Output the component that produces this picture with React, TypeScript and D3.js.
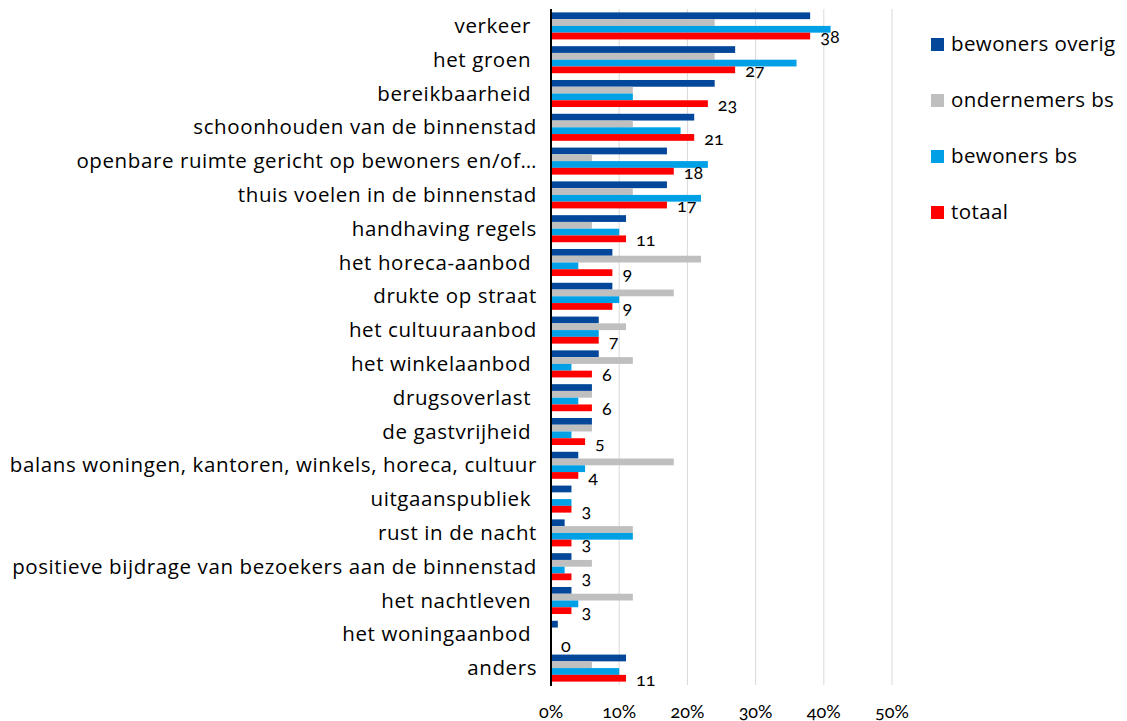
import React from "react";
import * as d3 from "d3";

const categories = [
  "verkeer ",
  "het groen ",
  "bereikbaarheid ",
  "schoonhouden van de binnenstad",
  "openbare ruimte gericht op bewoners en/of…",
  "thuis voelen in de binnenstad",
  "handhaving regels",
  "het horeca-aanbod ",
  "drukte op straat",
  "het cultuuraanbod",
  "het winkelaanbod ",
  "drugsoverlast ",
  "de gastvrijheid ",
  "balans woningen, kantoren, winkels, horeca, cultuur",
  "uitgaanspubliek ",
  "rust in de nacht",
  "positieve bijdrage van bezoekers aan de binnenstad",
  "het nachtleven ",
  "het woningaanbod ",
  "anders",
];

const seriesNames = ["bewoners overig", "ondernemers bs", "bewoners bs", "totaal"];
const seriesColors = ["#03479a", "#bfbfbf", "#00a0e6", "#ff0000"];

const bewonersOverig = [38, 27, 24, 21, 17, 17, 11, 9, 9, 7, 7, 6, 6, 4, 3, 2, 3, 3, 1, 11];
const ondernemersBs = [24, 24, 12, 12, 6, 12, 6, 22, 18, 11, 12, 6, 6, 18, 0, 12, 6, 12, 0, 6];
const bewonersBs = [41, 36, 12, 19, 23, 22, 10, 4, 10, 7, 3, 4, 3, 5, 3, 12, 2, 4, 0, 10];
const totaal = [38, 27, 23, 21, 18, 17, 11, 9, 9, 7, 6, 6, 5, 4, 3, 3, 3, 3, 0, 11];

const seriesValues = [bewonersOverig, ondernemersBs, bewonersBs, totaal];
const xTicks = [0, 10, 20, 30, 40, 50];

const FONT = "'Open Sans', Lato, sans-serif";
const NUMFONT = "Lato, 'Open Sans', sans-serif";

export default function App() {
  const W = 1127;
  const H = 721;
  const x = d3.scaleLinear().domain([0, 50]).range([551, 892]);
  const y = d3.scaleBand<string>().domain(categories).range([9, 685]).padding(0);
  const inner = d3
    .scaleBand<string>()
    .domain(seriesNames)
    .range([0, y.bandwidth()])
    .paddingInner(0)
    .paddingOuter(0.5);

  return (
    <svg
      width={W}
      height={H}
      style={{ position: "absolute", left: 0, top: 0, background: "#fff" }}
      fontFamily={FONT}
    >
      {xTicks.slice(1).map((t) => (
        <line key={t} x1={x(t)} x2={x(t)} y1={9} y2={685} stroke="#d9d9d9" strokeWidth={1} />
      ))}
      {categories.map((c, i) => (
        <g key={c} transform={`translate(0,${y(c)})`}>
          {seriesNames.map((s, j) => (
            <rect
              key={s}
              x={x(0)}
              y={inner(s)}
              width={Math.max(0, x(seriesValues[j][i]) - x(0))}
              height={inner.bandwidth()}
              fill={seriesColors[j]}
            />
          ))}
          <text
            x={x(totaal[i]) + 10}
            y={(inner("totaal") as number) + inner.bandwidth() + 4}
            fontSize={18}
            fontFamily={NUMFONT}
            fill="#000"
            style={{ fontVariantNumeric: "oldstyle-nums" }}
          >
            {totaal[i]}
          </text>
        </g>
      ))}
      <line x1={x(0)} x2={x(0)} y1={9} y2={686} stroke="#000" strokeWidth={2} />
      {categories.map((c) => (
        <text
          key={c}
          x={537}
          y={(y(c) as number) + y.bandwidth() / 2}
          dy="0.35em"
          textAnchor="end"
          fontSize={20.5}
          letterSpacing={0.6}
          fill="#000"
          style={{ whiteSpace: "pre" }}
        >
          {c}
        </text>
      ))}
      {xTicks.map((t) => (
        <text
          key={t}
          x={x(t)}
          y={712}
          dy="0.35em"
          textAnchor="middle"
          fontSize={18}
          fontFamily={NUMFONT}
          fill="#000"
          style={{ fontVariantNumeric: "oldstyle-nums" }}
        >
          {t}%
        </text>
      ))}
      {seriesNames.map((s, j) => (
        <g key={s} transform={`translate(931,${44 + j * 56})`}>
          <rect x={0} y={-6} width={13} height={13} fill={seriesColors[j]} />
          <text x={20} y={0} dy="0.35em" fontSize={20.5} letterSpacing={0.4} fill="#000">
            {s}
          </text>
        </g>
      ))}
    </svg>
  );
}
